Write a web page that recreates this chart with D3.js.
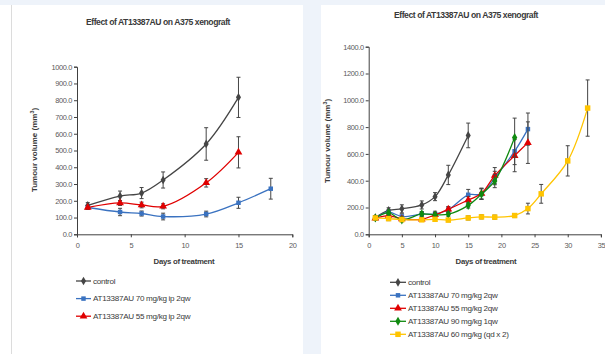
<!DOCTYPE html>
<html><head><meta charset="utf-8">
<script src="https://cdn.jsdelivr.net/npm/d3@7"></script>
<style>
body{margin:0;background:#eef3fa;}
svg{display:block;font-family:"Liberation Sans",Arial,sans-serif;}
</style></head><body>
<svg id="c" width="605" height="354"></svg>
<script>
// ---------- DATA ----------
const titleText = "Effect of AT13387AU on A375 xenograft";
const xTitle = "Days of treatment";

// Left chart
const daysL = [1, 4, 6, 8, 12, 15, 18];
const leftNames = ["control", "AT13387AU 70 mg/kg ip 2qw", "AT13387AU 55 mg/kg ip 2qw"];
const controlL = [172, 228, 246, 324, 539, 817];
const controlLErr = [17, 30, 33, 48, 97, 120];
const ip70L = [160, 133, 124, 106, 121, 188, 272];
const ip70LErr = [12, 22, 15, 20, 17, 33, 62];
const ip55L = [160, 187, 175, 167, 307, 489];
const ip55LErr = [12, 15, 17, 15, 25, 93];
const yTicksL = [0, 100, 200, 300, 400, 500, 600, 700, 800, 900, 1000];
const xTicksL = [0, 5, 10, 15, 20];

// Right chart
const daysR = [1, 3, 5, 8, 10, 12, 15, 17, 19, 22, 24, 26, 30, 33];
const rightNames = ["control", "AT13387AU 70 mg/kg 2qw", "AT13387AU 55 mg/kg 2qw", "AT13387AU 90 mg/kg 1qw", "AT13387AU 60 mg/kg (qd x 2)"];
const controlR = [125, 178, 190, 219, 281, 443, 738];
const controlRErr = [15, 20, 30, 30, 30, 72, 92];
const q70R = [122, 165, 133, 150, 152, 183, 295, 300, 420, 620, 785];
const q70RErr = [15, 15, 20, 20, 20, 20, 40, 40, 50, 100, 120];
const q55R = [120, 140, 115, 113, 145, 187, 256, 305, 438, 587, 684];
const q55RErr = [12, 15, 15, 15, 15, 20, 25, 40, 60, 120, 155];
const q90R = [122, 160, 108, 152, 146, 150, 216, 300, 398, 722];
const q90RErr = [15, 15, 15, 15, 15, 15, 20, 40, 50, 145];
const qd60R = [122, 117, 110, 108, 112, 106, 122, 130, 128, 140, 192, 302, 548, 942];
const qd60RErr = [15, 15, 12, 12, 15, 12, 15, 15, 15, 15, 40, 70, 113, 210];
const yTicksR = [0, 200, 400, 600, 800, 1000, 1200, 1400];
const xTicksR = [0, 5, 10, 15, 20, 25, 30, 35];

// ---------- STYLE ----------
const colors = {gray: "#454545", blue: "#3a72c0", red: "#e00000", green: "#108a10", yellow: "#ffc400"};
const svg = d3.select("#c");

// panels
svg.append("rect").attr("x", 0).attr("y", 5).attr("width", 303).attr("height", 349).attr("fill", "#fff");
svg.append("rect").attr("x", 321).attr("y", 5).attr("width", 284).attr("height", 349).attr("fill", "#fff");
svg.append("line").attr("x1", 11.5).attr("x2", 11.5).attr("y1", 5).attr("y2", 354).attr("stroke", "#dcdcdc");

function drawChart(cfg) {
  const g = svg.append("g");
  const x = d3.scaleLinear().domain(cfg.xDomain).range(cfg.xRange);
  const y = d3.scaleLinear().domain(cfg.yDomain).range(cfg.yRange);

  g.append("text").attr("x", cfg.titleX).attr("y", cfg.titleY).attr("text-anchor", "middle")
    .attr("font-size", 8.6).attr("font-weight", "bold").attr("letter-spacing", -0.45).attr("fill", "#3a3a3a")
    .text(titleText);

  const ya = g.append("g").attr("transform", `translate(${cfg.xRange[0]},0)`)
    .call(d3.axisLeft(y).tickValues(cfg.yTicks).tickFormat(d3.format(".1f")).tickSizeOuter(0).tickSize(3).tickPadding(2));
  const xa = g.append("g").attr("transform", `translate(0,${cfg.yRange[0]})`)
    .call(d3.axisBottom(x).tickValues(cfg.xTicks).tickFormat(d3.format("d")).tickSizeOuter(0).tickSize(3).tickPadding(5));
  [ya, xa].forEach(a => {
    a.select(".domain").attr("stroke", "#404040").attr("stroke-width", 1);
    a.selectAll(".tick line").attr("stroke", "#404040");
    a.selectAll("text").attr("fill", "#5a5a5a").attr("font-size", 7.4).attr("letter-spacing", -0.35)
      .attr("font-family", "Liberation Sans, Arial, sans-serif");
  });

  g.append("text").attr("x", cfg.xTitleX).attr("y", cfg.xTitleY).attr("text-anchor", "middle")
    .attr("font-size", 7.8).attr("font-weight", "bold").attr("letter-spacing", -0.3).attr("fill", "#3a3a3a").text(xTitle);
  const yt = g.append("text").attr("transform", `translate(${cfg.yTitleX},${cfg.yTitleY}) rotate(-90)`)
    .attr("text-anchor", "middle").attr("font-size", 8).attr("font-weight", "bold").attr("fill", "#3a3a3a");
  yt.append("tspan").text("Tumour volume (mm");
  yt.append("tspan").attr("font-size", 5.4).attr("dy", -3).text("3");
  yt.append("tspan").attr("dy", 3).text(")");

  const line = d3.line().x(d => x(d[0])).y(d => y(d[1])).curve(d3.curveCatmullRom.alpha(0.5));

  cfg.series.forEach(s => {
    const pts = s.values.map((v, i) => [cfg.days[i], v, s.errs[i]]);
    // error bars
    const eb = g.append("g").attr("stroke", "#454545").attr("stroke-width", 1);
    pts.forEach(p => {
      const cx = x(p[0]);
      eb.append("line").attr("x1", cx).attr("x2", cx).attr("y1", y(p[1] - p[2])).attr("y2", y(p[1] + p[2]));
      eb.append("line").attr("x1", cx - 2).attr("x2", cx + 2).attr("y1", y(p[1] + p[2])).attr("y2", y(p[1] + p[2]));
      eb.append("line").attr("x1", cx - 2).attr("x2", cx + 2).attr("y1", y(p[1] - p[2])).attr("y2", y(p[1] - p[2]));
    });
    g.append("path").datum(pts).attr("d", line).attr("fill", "none").attr("stroke", s.color).attr("stroke-width", 1.3);
    g.selectAll(null).data(pts).enter().append("path")
      .attr("transform", p => `translate(${x(p[0])},${y(p[1])})`)
      .attr("d", d3.symbol().type(s.symbol).size(s.size)).attr("fill", s.color);
  });

  // legend
  cfg.series.forEach((s, i) => {
    const ly = cfg.legendY + i * cfg.legendStep;
    g.append("line").attr("x1", cfg.legendX).attr("x2", cfg.legendX + cfg.legendLen).attr("y1", ly).attr("y2", ly)
      .attr("stroke", s.color).attr("stroke-width", 1.3);
    g.append("path").attr("transform", `translate(${cfg.legendX + cfg.legendLen / 2},${ly})`)
      .attr("d", d3.symbol().type(s.symbol).size(s.size)).attr("fill", s.color);
    g.append("text").attr("x", cfg.legendX + cfg.legendLen + 2).attr("y", ly + 2.7)
      .attr("font-size", 8.1).attr("letter-spacing", -0.3).attr("fill", "#3a3a3a").text(s.name);
  });
}

drawChart({
  xDomain: [0, 20], xRange: [77, 292.3], yDomain: [0, 1000], yRange: [234.3, 66.7],
  yTicks: yTicksL, xTicks: xTicksL, days: daysL,
  titleX: 158, titleY: 25, xTitleX: 184, xTitleY: 264, yTitleX: 37, yTitleY: 150,
  legendX: 76, legendY: 281, legendStep: 17.6, legendLen: 15,
  series: [
    {name: leftNames[0], values: controlL, errs: controlLErr, color: colors.gray, symbol: d3.symbolDiamond, size: 22},
    {name: leftNames[1], values: ip70L, errs: ip70LErr, color: colors.blue, symbol: d3.symbolSquare, size: 20},
    {name: leftNames[2], values: ip55L, errs: ip55LErr, color: colors.red, symbol: d3.symbolTriangle, size: 26}
  ]
});

drawChart({
  xDomain: [0, 35], xRange: [368.7, 600.9], yDomain: [0, 1400], yRange: [234.3, 46.7],
  yTicks: yTicksR, xTicks: xTicksR, days: daysR,
  titleX: 466, titleY: 18, xTitleX: 486, xTitleY: 264, yTitleX: 330, yTitleY: 141,
  legendX: 390, legendY: 282.3, legendStep: 13, legendLen: 16,
  series: [
    {name: rightNames[0], values: controlR, errs: controlRErr, color: colors.gray, symbol: d3.symbolDiamond, size: 22},
    {name: rightNames[1], values: q70R, errs: q70RErr, color: colors.blue, symbol: d3.symbolSquare, size: 20},
    {name: rightNames[2], values: q55R, errs: q55RErr, color: colors.red, symbol: d3.symbolTriangle, size: 26},
    {name: rightNames[3], values: q90R, errs: q90RErr, color: colors.green, symbol: d3.symbolDiamond, size: 24},
    {name: rightNames[4], values: qd60R, errs: qd60RErr, color: colors.yellow, symbol: d3.symbolSquare, size: 30}
  ]
});
</script>
</body></html>
